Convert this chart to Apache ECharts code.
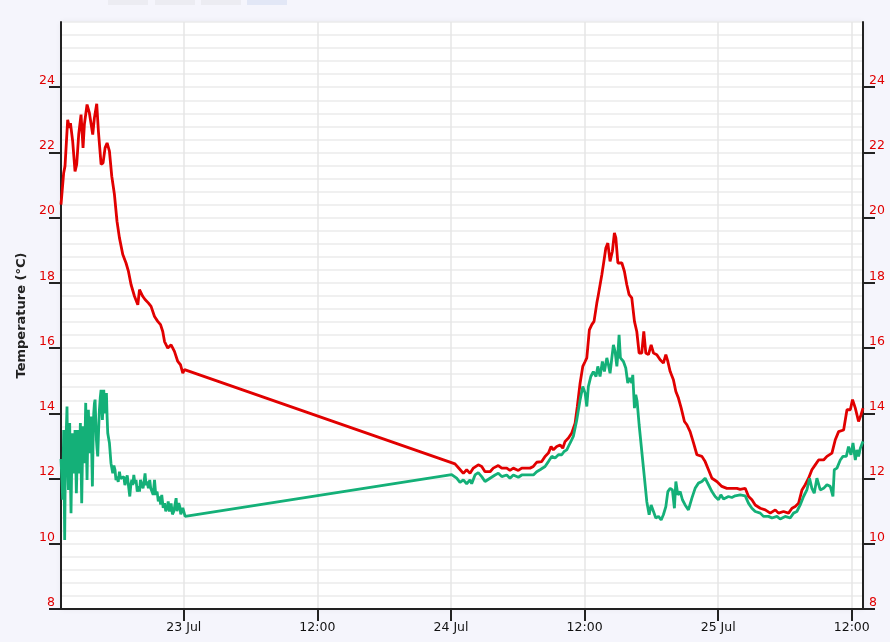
<!DOCTYPE html>
<html>
<head>
<meta charset="utf-8">
<script src="https://cdn.jsdelivr.net/npm/echarts@6/dist/echarts.min.js"></script>
<style>
html,body{margin:0;padding:0;background:#f5f5fc;}
#chart{width:890px;height:642px;}
</style>
</head>
<body>
<div id="chart"></div>
<script>
// hours since 22 Jul 00:00, temperature (°C)
const redSeg1 = [[12.97,20.4],[13.21,21.37],[13.33,21.58],[13.57,23.0],[13.73,22.75],[13.82,22.9],[14.02,22.34],[14.23,21.42],[14.38,21.63],[14.56,22.55],[14.77,23.16],[14.95,22.14],[15.07,22.86],[15.31,23.47],[15.52,23.21],[15.67,23.16],[15.82,22.55],[15.97,23.06],[16.18,23.49],[16.33,22.65],[16.57,21.63],[16.75,21.68],[16.93,22.14],[17.11,22.29],[17.32,22.04],[17.53,21.27],[17.77,20.71],[18.0,19.89],[18.22,19.38],[18.52,18.87],[18.81,18.61],[19.03,18.35],[19.26,17.95],[19.57,17.59],[19.87,17.33],[20.02,17.79],[20.31,17.59],[20.52,17.49],[20.83,17.38],[21.06,17.28],[21.37,16.97],[21.66,16.82],[21.91,16.72],[22.11,16.51],[22.27,16.2],[22.56,16.0],[22.86,16.1],[23.16,15.9],[23.46,15.59],[23.70,15.49],[23.91,15.23],[24.06,15.34]];
const redSeg2 = [[48.36,12.45],[48.75,12.30],[49.11,12.16],[49.41,12.27],[49.71,12.16],[50.01,12.32],[50.45,12.42],[50.76,12.37],[51.06,12.21],[51.51,12.21],[51.80,12.32],[52.25,12.40],[52.56,12.32],[53.01,12.32],[53.30,12.25],[53.60,12.32],[54.05,12.25],[54.36,12.32],[55.10,12.32],[55.40,12.37],[55.70,12.50],[56.15,12.52],[56.45,12.68],[56.75,12.78],[56.99,12.98],[57.20,12.88],[57.50,12.98],[57.80,13.03],[58.04,12.93],[58.25,13.14],[58.55,13.24],[58.85,13.40],[59.15,13.70],[59.35,14.21],[59.60,14.93],[59.84,15.44],[60.05,15.59],[60.20,15.70],[60.43,16.56],[60.65,16.72],[60.85,16.82],[61.10,17.38],[61.24,17.64],[61.55,18.25],[61.69,18.56],[61.91,19.07],[62.09,19.22],[62.29,18.66],[62.50,18.97],[62.68,19.53],[62.81,19.38],[62.99,18.61],[63.35,18.61],[63.58,18.35],[63.79,17.95],[64.00,17.64],[64.24,17.54],[64.48,16.82],[64.69,16.51],[64.90,15.85],[65.14,15.85],[65.32,16.51],[65.50,15.85],[65.74,15.80],[65.98,16.10],[66.19,15.85],[66.49,15.80],[66.79,15.64],[67.08,15.54],[67.30,15.80],[67.48,15.59],[67.69,15.28],[67.98,15.03],[68.20,14.67],[68.43,14.47],[68.68,14.16],[68.97,13.75],[69.19,13.65],[69.48,13.44],[69.78,13.10],[70.09,12.73],[70.54,12.68],[70.83,12.52],[71.13,12.27],[71.44,12.01],[71.88,11.91],[72.33,11.76],[72.78,11.70],[73.23,11.70],[73.68,11.70],[73.98,11.67],[74.43,11.70],[74.73,11.45],[75.03,11.35],[75.33,11.19],[75.78,11.09],[76.23,11.04],[76.68,10.94],[77.13,11.04],[77.42,10.94],[77.87,10.99],[78.32,10.94],[78.63,11.09],[78.92,11.14],[79.22,11.24],[79.53,11.65],[79.82,11.81],[80.12,12.01],[80.42,12.27],[80.72,12.42],[81.02,12.57],[81.47,12.57],[81.77,12.68],[82.22,12.78],[82.52,13.19],[82.82,13.44],[83.27,13.49],[83.57,14.11],[83.87,14.11],[84.07,14.42],[84.32,14.16],[84.47,13.95],[84.61,13.75],[84.83,13.95],[85.01,14.16]];
const greenSeg1 = [[12.97,12.6],[13.06,11.9],[13.12,11.35],[13.21,13.49],[13.30,10.12],[13.36,12.4],[13.42,13.19],[13.51,14.21],[13.58,12.3],[13.64,11.65],[13.70,12.9],[13.75,13.70],[13.81,12.2],[13.87,10.94],[13.94,12.6],[14.0,13.39],[14.05,12.9],[14.11,12.16],[14.17,12.8],[14.23,13.49],[14.29,12.6],[14.35,11.55],[14.41,12.4],[14.47,13.49],[14.53,12.9],[14.59,12.16],[14.65,12.9],[14.71,13.70],[14.77,12.6],[14.83,11.24],[14.89,12.5],[14.95,13.60],[15.01,13.0],[15.07,12.47],[15.13,13.3],[15.19,14.32],[15.25,13.0],[15.31,11.96],[15.37,13.2],[15.43,14.11],[15.49,13.4],[15.55,12.78],[15.61,13.5],[15.67,13.90],[15.73,12.8],[15.79,11.76],[15.85,13.1],[15.91,14.00],[15.97,14.3],[16.03,14.42],[16.09,13.8],[16.15,13.19],[16.21,12.9],[16.27,12.68],[16.35,13.5],[16.42,14.11],[16.50,14.5],[16.57,14.72],[16.63,14.2],[16.69,13.80],[16.75,14.3],[16.81,14.72],[16.87,14.3],[16.93,14.00],[16.99,14.4],[17.05,14.62],[17.11,13.9],[17.17,13.39],[17.32,13.09],[17.46,12.47],[17.62,12.16],[17.72,12.4],[17.82,12.27],[17.91,11.95],[18.0,12.06],[18.11,11.9],[18.22,12.21],[18.32,12.0],[18.43,11.96],[18.61,12.06],[18.71,11.8],[18.81,11.86],[18.92,12.1],[19.03,12.06],[19.15,11.45],[19.24,11.8],[19.33,11.96],[19.42,11.8],[19.51,12.11],[19.61,11.85],[19.71,11.96],[19.82,11.6],[19.93,11.76],[20.02,11.6],[20.11,11.96],[20.22,11.8],[20.34,11.70],[20.43,11.9],[20.52,12.16],[20.61,11.8],[20.70,11.91],[20.82,11.7],[20.94,11.96],[21.03,11.7],[21.12,11.76],[21.25,11.5],[21.37,11.96],[21.48,11.5],[21.60,11.60],[21.71,11.3],[21.82,11.45],[21.92,11.2],[22.02,11.50],[22.15,11.1],[22.27,11.24],[22.38,11.0],[22.50,11.09],[22.60,11.3],[22.71,10.99],[22.86,11.24],[22.98,10.9],[23.10,10.99],[23.21,11.2],[23.31,11.40],[23.39,11.0],[23.46,10.94],[23.55,11.25],[23.64,11.14],[23.73,10.9],[23.82,10.89],[23.91,11.1],[24.0,11.04],[24.12,10.84]];
const greenSeg2 = [[48.06,12.12],[48.51,12.01],[48.81,11.88],[49.11,11.96],[49.41,11.84],[49.71,11.96],[49.86,11.84],[50.16,12.11],[50.45,12.18],[50.76,12.06],[51.06,11.91],[51.51,12.01],[51.96,12.11],[52.25,12.16],[52.56,12.06],[53.01,12.11],[53.30,12.01],[53.60,12.11],[54.05,12.04],[54.36,12.11],[55.40,12.11],[55.70,12.21],[56.0,12.27],[56.45,12.37],[56.75,12.52],[57.05,12.68],[57.35,12.63],[57.65,12.73],[57.95,12.73],[58.16,12.83],[58.40,12.88],[58.70,13.09],[58.99,13.29],[59.30,13.80],[59.60,14.42],[59.84,14.82],[60.05,14.62],[60.20,14.21],[60.34,14.82],[60.56,15.13],[60.79,15.28],[61.03,15.13],[61.19,15.44],[61.39,15.13],[61.60,15.59],[61.78,15.28],[62.0,15.70],[62.14,15.49],[62.29,15.23],[62.45,15.70],[62.59,16.10],[62.74,15.90],[62.90,15.44],[62.99,15.80],[63.10,16.41],[63.22,15.70],[63.49,15.59],[63.70,15.39],[63.88,14.93],[64.06,15.08],[64.24,14.93],[64.33,15.18],[64.48,14.16],[64.60,14.57],[64.72,14.37],[64.90,13.65],[65.14,12.83],[65.38,12.01],[65.59,11.29],[65.80,10.89],[65.98,11.19],[66.19,10.99],[66.40,10.79],[66.64,10.84],[66.88,10.73],[67.08,10.89],[67.30,11.14],[67.48,11.60],[67.69,11.70],[67.89,11.65],[68.07,11.09],[68.20,11.91],[68.38,11.50],[68.59,11.60],[68.79,11.35],[69.03,11.19],[69.33,11.04],[69.64,11.40],[69.93,11.70],[70.23,11.86],[70.54,11.91],[70.83,12.01],[71.13,11.81],[71.44,11.60],[71.73,11.45],[72.03,11.35],[72.24,11.50],[72.48,11.37],[72.93,11.45],[73.23,11.42],[73.53,11.47],[73.98,11.50],[74.43,11.47],[74.73,11.24],[75.03,11.09],[75.33,10.99],[75.78,10.94],[76.07,10.84],[76.52,10.84],[76.83,10.79],[77.28,10.84],[77.57,10.76],[78.02,10.84],[78.47,10.79],[78.77,10.94],[79.07,10.99],[79.37,11.19],[79.67,11.45],[79.97,11.65],[80.21,12.01],[80.42,11.70],[80.63,11.55],[80.87,12.01],[81.17,11.65],[81.47,11.70],[81.77,11.81],[82.07,11.76],[82.31,11.45],[82.43,12.27],[82.67,12.32],[82.97,12.57],[83.21,12.68],[83.51,12.68],[83.71,12.98],[83.93,12.73],[84.11,13.09],[84.32,12.57],[84.47,12.88],[84.61,12.68],[84.77,12.93],[85.01,13.14]];
const firstDay = 22;          // day of month of hour 0
const monthLabel = 'Jul';
const yTickMin = 8, yTickMax = 26, yTickStep = 2;
const axisTitle = 'Temperature (°C)';

// x unit: half-days (12 h) since 22 Jul 00:00, so the axis' nice step of 1 is 12 h
const toSeries = segs => [].concat(...segs).map(p => [p[0] / 12, p[1]]);
const redData = toSeries([redSeg1, redSeg2]);
const greenData = toSeries([greenSeg1, greenSeg2]);

const RED = '#e10000', GREEN = '#14b078', AXIS = '#222';
const FONT = 'DejaVu Sans';

function yAxisCfg(pos, withGrid) {
  return {
    type: 'value', position: pos, min: yTickMin, max: yTickMax, interval: yTickStep,
    axisLine: {show: true, lineStyle: {color: AXIS, width: 2}},
    axisTick: {show: true, inside: false, length: 12, lineStyle: {color: AXIS, width: 2}},
    axisLabel: {color: RED, fontFamily: FONT, fontSize: 12.5, margin: 6, verticalAlign: 'bottom', showMaxLabel: false},
    splitLine: {show: withGrid, lineStyle: {color: '#ebebeb', width: 1.5}},
    minorTick: {show: false, splitNumber: 5},
    minorSplitLine: {show: withGrid, lineStyle: {color: '#ebebeb', width: 1.5}}
  };
}

const chart = echarts.init(document.getElementById('chart'), null, {renderer: 'canvas'});
const left = yAxisCfg('left', true);
left.name = axisTitle;
left.nameLocation = 'middle';
left.nameGap = 32;
left.nameTextStyle = {fontWeight: 'bold', fontSize: 13, color: AXIS, fontFamily: FONT};
const right = yAxisCfg('right', false);

chart.setOption({
  backgroundColor: '#f5f5fc',
  animation: false,
  graphic: [
    {type: 'rect', left: 108, top: 0, shape: {width: 40, height: 5}, style: {fill: '#ececf2'}},
    {type: 'rect', left: 155, top: 0, shape: {width: 40, height: 5}, style: {fill: '#ececf2'}},
    {type: 'rect', left: 201, top: 0, shape: {width: 40, height: 5}, style: {fill: '#ececf2'}},
    {type: 'rect', left: 247, top: 0, shape: {width: 40, height: 5}, style: {fill: '#e2e7f6'}}
  ],
  grid: {left: 61, right: 27, top: 22, bottom: 33, show: true, backgroundColor: '#ffffff', borderWidth: 0,
         shadowBlur: 6, shadowColor: 'rgba(0,0,0,0.07)'},
  xAxis: {
    type: 'value', min: 'dataMin', max: 'dataMax',
    minInterval: 1, maxInterval: 1, splitNumber: 6,
    axisLine: {show: true, lineStyle: {color: AXIS, width: 2}},
    axisTick: {show: true, inside: false, length: 12, lineStyle: {color: AXIS, width: 2}},
    axisLabel: {
      color: '#111', fontFamily: FONT, fontSize: 12.5, margin: 12,
      showMinLabel: false, showMaxLabel: false,
      formatter: function (v) {
        const n = Math.round(v);
        if (Math.abs(v - n) > 1e-6) return '';
        if (n % 2 === 0) return (firstDay + n / 2) + ' ' + monthLabel;
        return '12:00';
      }
    },
    splitLine: {show: true, lineStyle: {color: '#e6e6e6', width: 1.5}}
  },
  yAxis: [left, right],
  series: [
    {type: 'line', data: redData, showSymbol: false, symbol: 'none', lineStyle: {color: RED, width: 2.8}, itemStyle: {color: RED}},
    {type: 'line', data: greenData, showSymbol: false, symbol: 'none', lineStyle: {color: GREEN, width: 2.8}, itemStyle: {color: GREEN}}
  ]
});
</script>
</body>
</html>
